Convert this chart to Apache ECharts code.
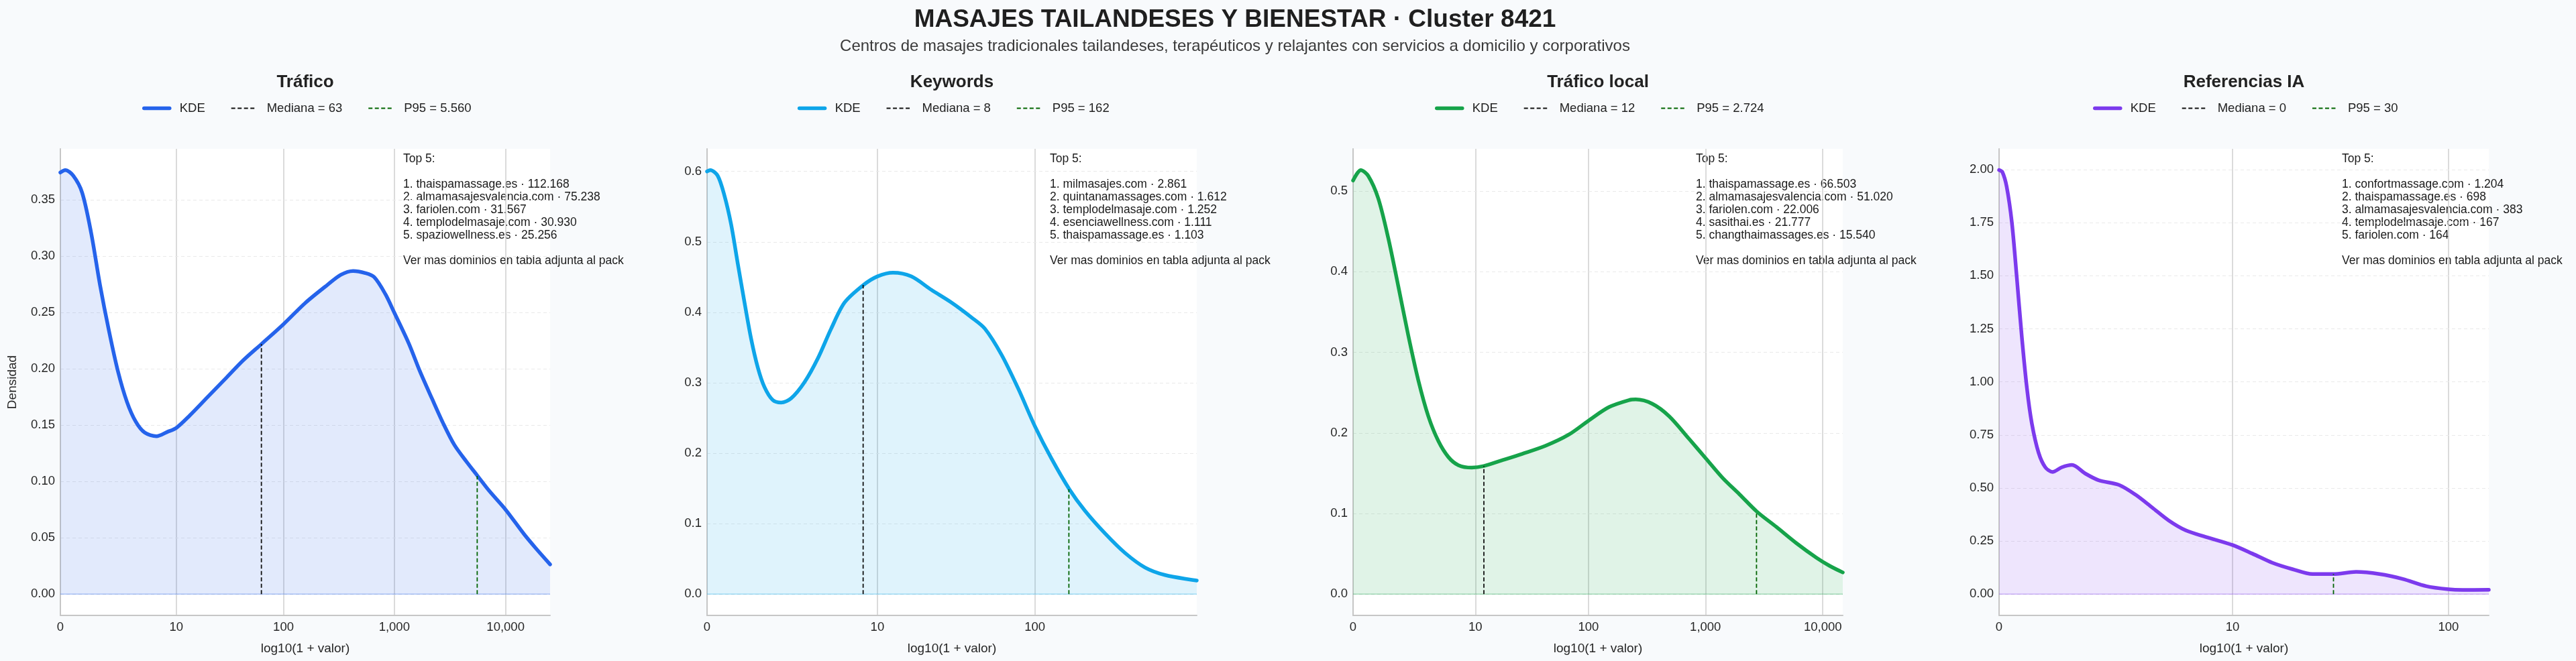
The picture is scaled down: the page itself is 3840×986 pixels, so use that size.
<!DOCTYPE html>
<html>
<head>
<meta charset="utf-8">
<script src="https://cdn.jsdelivr.net/npm/echarts@6/dist/echarts.min.js"></script>
<style>
html,body{margin:0;padding:0;background:#f8fafc;}
#chart{width:3840px;height:986px;}
</style>
</head>
<body>
<div id="chart"></div>
<script>
// ---------------- DATA ----------------
const mainTitle = 'MASAJES TAILANDESES Y BIENESTAR · Cluster 8421';
const subTitle = 'Centros de masajes tradicionales tailandeses, terapéuticos y relajantes con servicios a domicilio y corporativos';
const panelTitles = ['Tráfico', 'Keywords', 'Tráfico local', 'Referencias IA'];
const panelColors = ['#2563eb', '#0ea5e9', '#16a34a', '#7c3aed'];

const medianValues = [63, 8, 12, 0];
const medianLabels = ['63', '8', '12', '0'];
const p95Values = [5560, 162, 2724, 30];
const p95Labels = ['5.560', '162', '2.724', '30'];
// KDE height where the marker lines end
const medianHeights = [0.222, 0.439, 0.159, 1.998];
const p95Heights = [0.105, 0.149, 0.102, 0.095];

// x range, in log10(1 + valor)
const xMaxLog = [4.40, 2.994, 4.17, 2.184];
const xTickValues = [0, 10, 100, 1000, 10000];
const xTickLabels = ['0', '10', '100', '1,000', '10,000'];

const yTicksTrafico = [0, 0.05, 0.10, 0.15, 0.20, 0.25, 0.30, 0.35];
const yTicksKeywords = [0, 0.1, 0.2, 0.3, 0.4, 0.5, 0.6];
const yTicksLocal = [0, 0.1, 0.2, 0.3, 0.4, 0.5];
const yTicksIA = [0, 0.25, 0.50, 0.75, 1.00, 1.25, 1.50, 1.75, 2.00];
const yDecimals = [2, 1, 1, 2];

// KDE curves: [log10(1+valor), densidad]
const kdeTrafico = [[0,0.3743],[0.044,0.3765],[0.115,0.3716],[0.195,0.3566],[0.276,0.321],[0.356,0.2746],[0.437,0.2336],[0.517,0.198],[0.598,0.1708],[0.678,0.153],[0.758,0.1434],[0.863,0.1402],[0.96,0.144],[1.04,0.1475],[1.161,0.1585],[1.322,0.1749],[1.483,0.1913],[1.644,0.2077],[1.805,0.2219],[2.004,0.2396],[2.2,0.2585],[2.40,0.2746],[2.52,0.2835],[2.63,0.2869],[2.74,0.2850],[2.82,0.2814],[2.92,0.2664],[3.0,0.25],[3.13,0.2227],[3.23,0.198],[3.34,0.1734],[3.44,0.1516],[3.54,0.1325],[3.65,0.1175],[3.747,0.1052],[3.855,0.0915],[4.0,0.0751],[4.166,0.0533],[4.27,0.041],[4.40,0.0265]];
const kdeKeywords = [[0,0.600],[0.02,0.602],[0.065,0.594],[0.106,0.566],[0.147,0.525],[0.188,0.469],[0.229,0.414],[0.269,0.363],[0.31,0.322],[0.351,0.294],[0.402,0.2755],[0.453,0.272],[0.514,0.278],[0.596,0.301],[0.678,0.335],[0.759,0.377],[0.841,0.414],[0.957,0.439],[1.041,0.451],[1.137,0.4564],[1.249,0.451],[1.371,0.432],[1.494,0.414],[1.616,0.393],[1.698,0.377],[1.8,0.340],[1.902,0.292],[2.004,0.2386],[2.106,0.1924],[2.216,0.1486],[2.31,0.1186],[2.433,0.0863],[2.555,0.0586],[2.678,0.0378],[2.8,0.0272],[2.994,0.0194]];
const kdeLocal = [[0,0.513],[0.066,0.526],[0.128,0.519],[0.214,0.491],[0.299,0.442],[0.385,0.382],[0.47,0.321],[0.556,0.265],[0.641,0.2206],[0.726,0.190],[0.812,0.170],[0.897,0.160],[1.011,0.157],[1.114,0.159],[1.268,0.166],[1.439,0.174],[1.638,0.184],[1.838,0.198],[2.009,0.2157],[2.179,0.232],[2.35,0.2407],[2.407,0.2415],[2.55,0.236],[2.692,0.2206],[2.863,0.1923],[3.006,0.168],[3.148,0.144],[3.291,0.1238],[3.439,0.1024],[3.604,0.0835],[3.775,0.0633],[3.946,0.0452],[4.06,0.035],[4.17,0.027]];
const kdeIA = [[0,1.998],[0.015,1.988],[0.034,1.919],[0.057,1.751],[0.079,1.492],[0.101,1.217],[0.124,0.972],[0.146,0.805],[0.176,0.667],[0.206,0.598],[0.238,0.576],[0.28,0.598],[0.325,0.609],[0.385,0.568],[0.444,0.537],[0.534,0.515],[0.608,0.469],[0.683,0.408],[0.757,0.347],[0.832,0.301],[0.921,0.270],[1.04,0.232],[1.13,0.191],[1.219,0.148],[1.308,0.118],[1.398,0.095],[1.49,0.095],[1.592,0.105],[1.696,0.095],[1.80,0.072],[1.905,0.038],[2.004,0.023],[2.068,0.020],[2.184,0.021]];

const top5Trafico = ['1. thaispamassage.es · 112.168','2. almamasajesvalencia.com · 75.238','3. fariolen.com · 31.567','4. templodelmasaje.com · 30.930','5. spaziowellness.es · 25.256'];
const top5Keywords = ['1. milmasajes.com · 2.861','2. quintanamassages.com · 1.612','3. templodelmasaje.com · 1.252','4. esenciawellness.com · 1.111','5. thaispamassage.es · 1.103'];
const top5Local = ['1. thaispamassage.es · 66.503','2. almamasajesvalencia.com · 51.020','3. fariolen.com · 22.006','4. sasithai.es · 21.777','5. changthaimassages.es · 15.540'];
const top5IA = ['1. confortmassage.com · 1.204','2. thaispamassage.es · 698','3. almamasajesvalencia.com · 383','4. templodelmasaje.com · 167','5. fariolen.com · 164'];
const footNote = 'Ver mas dominios en tabla adjunta al pack';

// ---------------- LAYOUT / STYLE ----------------
const FONT = "'Liberation Sans', Arial, Helvetica, sans-serif";
const gridLefts = [90, 1054, 2017, 2980];
const gridWidth = 730, gridTop = 222, gridHeight = 696;
const kdes = [kdeTrafico, kdeKeywords, kdeLocal, kdeIA];
const yTicksAll = [yTicksTrafico, yTicksKeywords, yTicksLocal, yTicksIA];
const tops = [top5Trafico, top5Keywords, top5Local, top5IA];
const LEG_FS = 18.5, ITEM_W = 38, ITEM_GAP = 38, TEXT_PAD = 10;

const measureCtx = document.createElement('canvas').getContext('2d');
function textWidth(t, fs, weight) {
  measureCtx.font = (weight || 'normal') + ' ' + fs + 'px ' + FONT;
  return measureCtx.measureText(t).width;
}
function hexA(hex, a) {
  const n = parseInt(hex.slice(1), 16);
  return 'rgba(' + ((n >> 16) & 255) + ',' + ((n >> 8) & 255) + ',' + (n & 255) + ',' + a + ')';
}
const toLog = v => Math.log10(1 + v);

const grids = [], xAxes = [], yAxes = [], series = [], legends = [], graphics = [];

graphics.push({ type: 'text', x: 1841, y: 30, style: { text: mainTitle, font: 'bold 37px ' + FONT, fill: '#1f1f1f', align: 'center', verticalAlign: 'middle' } });
graphics.push({ type: 'text', x: 1841, y: 69, style: { text: subTitle, font: '24px ' + FONT, fill: '#3a3a3a', align: 'center', verticalAlign: 'middle' } });

for (let i = 0; i < 4; i++) {
  const col = panelColors[i];
  const kde = kdes[i];
  const yMaxData = Math.max(...kde.map(p => p[1]));
  const yMax = yMaxData * 1.05, yMin = -yMaxData * 0.05;
  const xTickPos = [], xTickLab = [];
  xTickValues.forEach((v, k) => { const p = toLog(v); if (p <= xMaxLog[i] + 1e-9) { xTickPos.push(p); xTickLab.push(xTickLabels[k]); } });
  const cx = gridLefts[i] + gridWidth / 2;

  grids.push({ left: gridLefts[i], top: gridTop, width: gridWidth, height: gridHeight, show: true, backgroundColor: '#ffffff', borderWidth: 0, containLabel: false });

  xAxes.push({
    gridIndex: i, type: 'value', min: 0, max: xMaxLog[i],
    axisLine: { show: true, onZero: false, lineStyle: { color: '#c6c6c6', width: 2 } },
    axisTick: { show: false, customValues: xTickPos },
    axisLabel: {
      customValues: xTickPos, color: '#262626', fontSize: 18.5, fontFamily: FONT, margin: 8,
      formatter: function (v) { let best = 0; xTickPos.forEach((p, k) => { if (Math.abs(p - v) < Math.abs(xTickPos[best] - v)) best = k; }); return xTickLab[best]; }
    },
    splitLine: { show: true, lineStyle: { color: '#cfcfcf', width: 1.5 } },
    name: 'log10(1 + valor)', nameLocation: 'middle', nameGap: 40,
    nameTextStyle: { fontSize: 19, color: '#262626', fontFamily: FONT }
  });

  const yt = yTicksAll[i], dec = yDecimals[i];
  yAxes.push({
    gridIndex: i, type: 'value', min: yMin, max: yMax, z: 2,
    axisLine: { show: true, onZero: false, lineStyle: { color: '#c6c6c6', width: 2 } },
    axisTick: { show: false, customValues: yt },
    axisLabel: { customValues: yt, color: '#262626', fontSize: 18.5, fontFamily: FONT, margin: 8, formatter: v => Number(v).toFixed(dec) },
    splitLine: { show: true, lineStyle: { color: '#e9e9e9', width: 1, type: [5, 4] } },
    name: i === 0 ? 'Densidad' : '', nameLocation: 'middle', nameGap: 62, nameRotate: 90,
    nameTextStyle: { fontSize: 19, color: '#262626', fontFamily: FONT }
  });

  const kdeName = 'KDE' + '\u200b'.repeat(i);
  const medName = 'Mediana = ' + medianLabels[i];
  const p95Name = 'P95 = ' + p95Labels[i];

  series.push({
    name: 'base' + i, type: 'line', xAxisIndex: i, yAxisIndex: i, silent: true, symbol: 'none', z: 3,
    data: [[0, 0], [xMaxLog[i], 0]], lineStyle: { color: hexA(col, 0.35), width: 1.5 }
  });
  series.push({
    name: kdeName, type: 'line', xAxisIndex: i, yAxisIndex: i, data: kde,
    smooth: 0.3, symbol: 'none', showSymbol: false, z: 3,
    itemStyle: { color: col },
    lineStyle: { color: col, width: 5.5, cap: 'round', join: 'round' },
    areaStyle: { color: hexA(col, 0.19), origin: 0 }
  });
  series.push({
    name: medName, type: 'line', xAxisIndex: i, yAxisIndex: i, symbol: 'none', z: (medianValues[i] === 0 ? 1 : 4),
    data: [[toLog(medianValues[i]), 0], [toLog(medianValues[i]), medianHeights[i]]],
    itemStyle: { color: '#111111' },
    lineStyle: { color: '#111111', width: 1.8, type: [6, 3.5] }
  });
  series.push({
    name: p95Name, type: 'line', xAxisIndex: i, yAxisIndex: i, symbol: 'none', z: 4,
    data: [[toLog(p95Values[i]), 0], [toLog(p95Values[i]), p95Heights[i]]],
    itemStyle: { color: '#006400' },
    lineStyle: { color: '#006400', width: 1.8, type: [6, 3.5] }
  });

  const names = ['KDE', medName, p95Name];
  let total = 0;
  names.forEach(n => { total += ITEM_W + 5 + TEXT_PAD + textWidth(n, LEG_FS); });
  total += ITEM_GAP * 2;
  legends.push({
    show: true, selectedMode: false, padding: 0,
    left: cx - total / 2, top: 152,
    itemWidth: ITEM_W, itemHeight: 14, itemGap: ITEM_GAP,
    itemStyle: { color: 'rgba(0,0,0,0)', borderWidth: 0, opacity: 0 },
    data: [
      { name: kdeName, lineStyle: { width: 5.5, cap: 'round' } },
      { name: medName, lineStyle: { width: 1.8 } },
      { name: p95Name, lineStyle: { width: 1.8 } }
    ],
    formatter: n => n.replace(/\u200b/g, ''),
    textStyle: { fontSize: LEG_FS, color: '#222222', fontFamily: FONT, padding: [0, 0, 0, TEXT_PAD] }
  });

  graphics.push({ type: 'text', x: cx, y: 123, style: { text: panelTitles[i], font: 'bold 26px ' + FONT, fill: '#222222', align: 'center', verticalAlign: 'middle' } });

  const annot = ['Top 5:', ''].concat(tops[i]).concat(['', footNote]).join('\n');
  graphics.push({ type: 'text', x: gridLefts[i] + gridWidth * 0.70, y: 228, style: { text: annot, font: '17.5px ' + FONT, fill: '#1a1a1a', align: 'left', verticalAlign: 'top', lineHeight: 19 } });
}

const chart = echarts.init(document.getElementById('chart'), null, { renderer: 'canvas', width: 3840, height: 986 });
chart.setOption({
  backgroundColor: '#f8fafc',
  animation: false,
  grid: grids, xAxis: xAxes, yAxis: yAxes, series: series, legend: legends,
  graphic: { elements: graphics }
});
</script>
</body>
</html>
